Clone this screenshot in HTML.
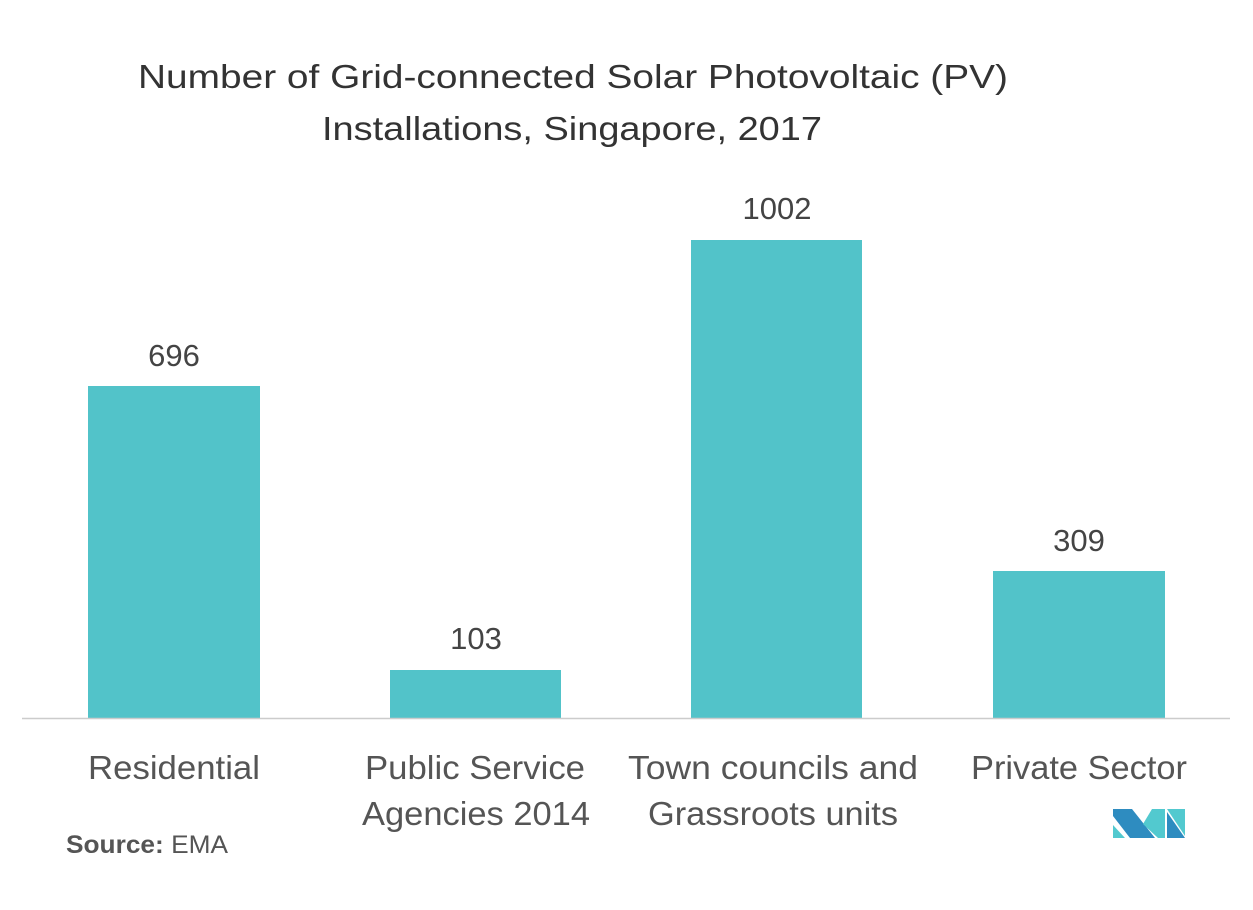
<!DOCTYPE html>
<html><head><style>
body{margin:0;background:#fff;}
svg text{font-family:"Liberation Sans",sans-serif;}
</style></head><body>
<svg width="1253" height="905" xmlns="http://www.w3.org/2000/svg">
<rect width="1253" height="905" fill="#fff"/>
<g fill="#333" font-size="33">
<text x="138" y="88" textLength="870" lengthAdjust="spacingAndGlyphs">Number of Grid-connected Solar Photovoltaic (PV)</text>
<text x="322" y="140" textLength="500" lengthAdjust="spacingAndGlyphs">Installations, Singapore, 2017</text>
</g>
<g fill="#52c3c9">
<rect x="88" y="386" width="172" height="332"/>
<rect x="390" y="670" width="171" height="48"/>
<rect x="691" y="240" width="171" height="478"/>
<rect x="993" y="571" width="172" height="147"/>
</g>
<line x1="22" y1="718.5" x2="1230" y2="718.5" stroke="#ccc" stroke-width="1.5"/>
<g fill="#444" font-size="31" text-anchor="middle">
<text x="174" y="366">696</text>
<text x="476" y="649">103</text>
<text x="777" y="219">1002</text>
<text x="1079" y="551">309</text>
</g>
<g fill="#555" font-size="33">
<text x="88" y="779" textLength="172" lengthAdjust="spacingAndGlyphs">Residential</text>
<text x="365" y="779" textLength="220" lengthAdjust="spacingAndGlyphs">Public Service</text>
<text x="362" y="825" textLength="228" lengthAdjust="spacingAndGlyphs">Agencies 2014</text>
<text x="628" y="779" textLength="290" lengthAdjust="spacingAndGlyphs">Town councils and</text>
<text x="648" y="825" textLength="250" lengthAdjust="spacingAndGlyphs">Grassroots units</text>
<text x="971" y="779" textLength="216" lengthAdjust="spacingAndGlyphs">Private Sector</text>
</g>
<text x="66" y="853" font-size="25" fill="#555" textLength="162" lengthAdjust="spacingAndGlyphs"><tspan font-weight="bold">Source:</tspan> EMA</text>
<g>
<polygon points="1113,809 1132,809 1155,838 1130,838 1113,816" fill="#2e8cc0"/>
<polygon points="1113,825 1113,838 1125,838" fill="#52c9cf"/>
<polygon points="1143,824 1152,809 1165,809 1165,838 1158,838" fill="#52c9cf"/>
<polygon points="1167,809 1185,809 1185,836" fill="#52c9cf"/>
<polygon points="1167,812 1185,838 1167,838" fill="#2e8cc0"/>
</g>
</svg>
</body></html>
